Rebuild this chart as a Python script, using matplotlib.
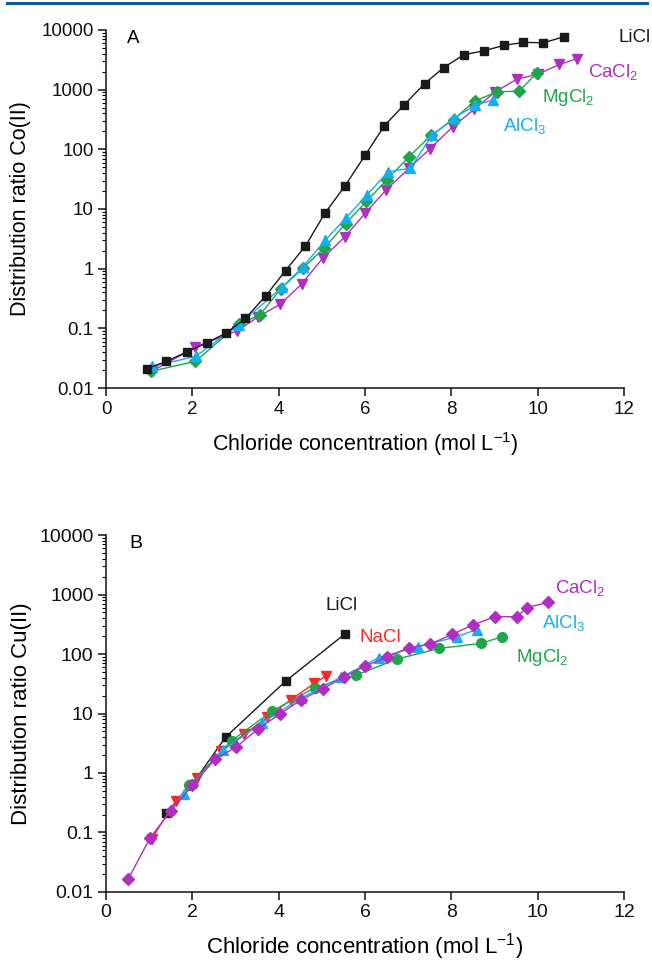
import matplotlib
matplotlib.use("Agg")
import matplotlib.pyplot as plt
from matplotlib.lines import Line2D
from matplotlib.ticker import LogLocator, FixedLocator, NullFormatter

plt.rcParams['font.family'] = ['Liberation Sans', 'DejaVu Sans']
plt.rcParams['mathtext.fontset'] = 'custom'
plt.rcParams['mathtext.rm'] = 'Liberation Sans'
plt.rcParams['mathtext.it'] = 'Liberation Sans:italic'
plt.rcParams['mathtext.default'] = 'rm'

# ---------------- Panel A: Co(II) ----------------
a_licl_x = [0.94, 1.40, 1.87, 2.33, 2.78, 3.23, 3.70, 4.16, 4.62, 5.07, 5.53, 6.00,
            6.45, 6.91, 7.38, 7.82, 8.29, 8.75, 9.21, 9.67, 10.13, 10.61]
a_licl_y = [0.021, 0.028, 0.040, 0.057, 0.083, 0.147, 0.35, 0.93, 2.4, 8.5, 24, 79,
            250, 560, 1260, 2340, 3850, 4470, 5500, 6200, 6100, 7700]

a_cacl2_x = [1.06, 2.06, 3.04, 3.52, 4.04, 4.54, 5.02, 5.53, 6.01, 6.49, 7.03, 7.51,
             8.03, 8.53, 9.02, 9.52, 10.00, 10.50, 10.91]
a_cacl2_y = [0.019, 0.048, 0.091, 0.155, 0.255, 0.56, 1.5, 3.4, 8.6, 21, 49, 103,
             238, 470, 920, 1500, 1800, 2640, 3300]

a_mgcl2_x = [1.04, 2.07, 3.08, 3.56, 4.05, 4.56, 5.05, 5.55, 6.03, 6.51, 7.01, 7.53,
             8.05, 8.55, 9.06, 9.57, 9.98]
a_mgcl2_y = [0.019, 0.028, 0.118, 0.166, 0.46, 1.02, 2.2, 5.7, 13.4, 31, 74, 172,
             316, 650, 920, 945, 1900]

a_alcl3_x = [1.07, 2.08, 3.08, 4.08, 4.56, 5.08, 5.55, 6.04, 6.53, 7.05, 7.55,
             8.07, 8.55, 8.97]
a_alcl3_y = [0.023, 0.034, 0.115, 0.49, 1.07, 3.0, 7.0, 17, 42, 48, 172,
             335, 550, 670]

# ---------------- Panel B: Cu(II) ----------------
b_licl_x = [1.39, 2.00, 2.77, 4.16, 5.53]
b_licl_y = [0.21, 0.65, 4.0, 35, 216]

b_nacl_x = [1.06, 1.62, 2.10, 2.67, 3.20, 3.74, 4.28, 4.82, 5.10]
b_nacl_y = [0.079, 0.34, 0.83, 2.3, 4.5, 8.6, 17, 32, 43]

b_cacl2_x = [0.52, 1.02, 1.50, 2.00, 2.52, 3.02, 3.52, 4.02, 4.52, 5.02, 5.51, 6.01,
             6.51, 7.01, 7.51, 8.02, 8.49, 9.01, 9.52, 9.75, 10.24]
b_cacl2_y = [0.0168, 0.081, 0.23, 0.62, 1.7, 2.75, 5.5, 9.7, 17, 26, 41, 63,
             89, 127, 147, 214, 306, 424, 424, 600, 740]

b_alcl3_x = [1.81, 2.71, 3.62, 4.51, 5.45, 6.32, 7.22, 8.12, 8.59]
b_alcl3_y = [0.45, 2.4, 7.0, 18, 41, 87, 132, 195, 258]

b_mgcl2_x = [1.93, 2.91, 3.85, 4.83, 5.78, 6.74, 7.71, 8.69, 9.17]
b_mgcl2_y = [0.62, 3.5, 11, 27, 44, 82, 124, 151, 195]

xticks = [0, 2, 4, 6, 8, 10, 12]
yticks = [0.01, 0.1, 1, 10, 100, 1000, 10000]
ytick_labels = ['0.01', '0.1', '1', '10', '100', '1000', '10000']

BLACK = '#1a1a1a'
MAGENTA = '#b12fc0'
GREEN = '#1fa64a'
BLUE = '#17aeef'
RED = '#f52a2a'

fig = plt.figure(figsize=(6.52, 9.64), dpi=100)
axA = fig.add_axes([0.1626, 0.5975, 0.7945, 0.3714])
axB = fig.add_axes([0.1626, 0.0747, 0.7945, 0.3703])

fig.add_artist(Line2D([0.011, 0.992], [0.9966, 0.9966], color='#0b5a9c', lw=2.2))


def style(ax, fs):
    ax.set_yscale('log')
    ax.set_xlim(0, 12)
    ax.set_ylim(0.01, 10000)
    for s in ['top', 'right']:
        ax.spines[s].set_visible(False)
    for s in ['left', 'bottom']:
        ax.spines[s].set_linewidth(1.1)
        ax.spines[s].set_color('#111111')
    ax.xaxis.set_major_locator(FixedLocator(xticks))
    ax.set_xticklabels([str(t) for t in xticks])
    ax.yaxis.set_major_locator(FixedLocator(yticks))
    ax.set_yticklabels(ytick_labels)
    ax.yaxis.set_minor_locator(LogLocator(base=10, subs=range(2, 10), numticks=20))
    ax.yaxis.set_minor_formatter(NullFormatter())
    ax.tick_params(axis='both', which='major', direction='out', length=6, width=1.1,
                   labelsize=fs, pad=3, colors='#111111')
    ax.tick_params(axis='y', which='minor', direction='out', length=3, width=0.8)
    ax.tick_params(axis='x', which='minor', length=0)


style(axA, 13.5)
style(axB, 14)

lw = 1.0
axA.plot(a_licl_x, a_licl_y, color=BLACK, lw=lw, marker='s', ms=6.2, zorder=5)
axA.plot(a_cacl2_x, a_cacl2_y, color=MAGENTA, lw=lw, marker='v', ms=7.8, zorder=3)
axA.plot(a_mgcl2_x, a_mgcl2_y, color=GREEN, lw=lw, marker='D', ms=6.2, zorder=4)
axA.plot(a_alcl3_x, a_alcl3_y, color=BLUE, lw=lw, marker='^', ms=7.8, zorder=4)

axB.plot(b_licl_x, b_licl_y, color=BLACK, lw=lw, marker='s', ms=6.2, zorder=3)
axB.plot(b_nacl_x, b_nacl_y, color=RED, lw=lw, marker='v', ms=7.8, zorder=3)
axB.plot(b_mgcl2_x, b_mgcl2_y, color=GREEN, lw=lw, marker='o', ms=7, zorder=4)
axB.plot(b_alcl3_x, b_alcl3_y, color=BLUE, lw=lw, marker='^', ms=7.8, zorder=4)
axB.plot(b_cacl2_x, b_cacl2_y, color=MAGENTA, lw=lw, marker='D', ms=6.2, zorder=5)

lab_fs = 13.5
axA.text(0.04, 0.975, 'A', transform=axA.transAxes, fontsize=13.5, va='center', ha='left')
axA.text(11.87, 7600, 'LiCl', color=BLACK, fontsize=lab_fs, va='center', ha='left')
axA.text(11.16, 1970, 'CaCl$_2$', color=MAGENTA, fontsize=lab_fs, va='center', ha='left')
axA.text(10.1, 750, 'MgCl$_2$', color=GREEN, fontsize=lab_fs, va='center', ha='left')
axA.text(9.19, 245, 'AlCl$_3$', color=BLUE, fontsize=lab_fs, va='center', ha='left')

axB.text(0.045, 0.975, 'B', transform=axB.transAxes, fontsize=14, va='center', ha='left')
axB.text(5.09, 660, 'LiCl', color=BLACK, fontsize=lab_fs, va='center', ha='left')
axB.text(5.88, 192, 'NaCl', color=RED, fontsize=lab_fs, va='center', ha='left')
axB.text(10.39, 1290, 'CaCl$_2$', color=MAGENTA, fontsize=lab_fs, va='center', ha='left')
axB.text(10.1, 330, 'AlCl$_3$', color=BLUE, fontsize=lab_fs, va='center', ha='left')
axB.text(9.49, 89, 'MgCl$_2$', color=GREEN, fontsize=lab_fs, va='center', ha='left')

axA.set_xlabel('Chloride concentration (mol L$^{-1}$)', fontsize=15.5, labelpad=9)
axA.set_ylabel('Distribution ratio Co(II)', fontsize=15.5, labelpad=7)
axB.set_xlabel('Chloride concentration (mol L$^{-1}$)', fontsize=16, labelpad=7)
axB.set_ylabel('Distribution ratio Cu(II)', fontsize=16, labelpad=5)

fig.savefig('out.png', dpi=100)
